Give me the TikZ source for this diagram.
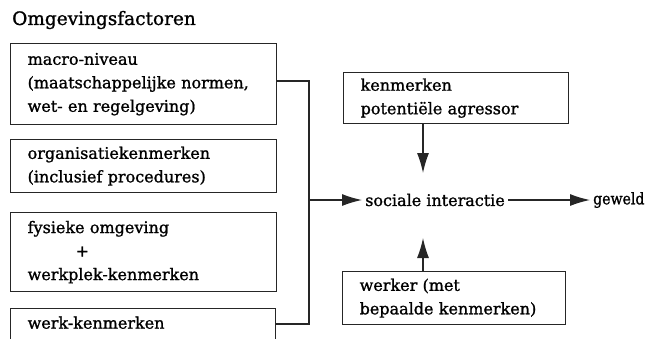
\documentclass[tikz,border=0pt]{standalone}
\usepackage{fontspec}
\setmainfont{DejaVu Serif}
\newfontfamily\medserif{DejaVu Serif}[FakeBold=1.2]
\newfontfamily\narrowserif{DejaVu Serif}[FakeBold=1.2, FakeStretch=0.88]
\usetikzlibrary{arrows.meta,calc}
\begin{document}
\begin{tikzpicture}[x=1pt,y=-1pt,
  box/.style={draw=black!85, line width=1.3pt, rectangle, align=left, anchor=north west,
    inner xsep=17pt, inner ysep=0pt, font=\medserif\fontsize{16}{23.5}\selectfont},
  plain/.style={inner sep=3pt, font=\medserif\fontsize{16}{23.5}\selectfont},
  con/.style={draw=black!85, line width=1.2pt},
  arr/.style={con, -{Latex[length=20pt,width=12pt]}}]
\useasboundingbox (0,0) rectangle (651,338);
\clip (0,0) rectangle (651,338);
\node[anchor=west, inner sep=0pt, font=\medserif\fontsize{18.5}{20}\selectfont] (title) at (12,20) {Omgevingsfactoren};
\node[box, text width=232pt, minimum height=81pt] (b1) at (10,43)
  {macro-niveau\\(maatschappelijke normen,\\wet- en regelgeving)};
\node[box, text width=232pt, minimum height=53pt] (b2) at (10,139)
  {organisatiekenmerken\\(inclusief procedures)};
\node[box, text width=232pt, minimum height=79pt] (b3) at (10,212)
  {fysieke omgeving\\\hspace*{48pt}+\\werkplek-kenmerken};
\node[box, text width=231pt, inner ysep=5pt, text height=15pt, text depth=30pt] (b4) at (10,308)
  {werk-kenmerken};
\node[box, text width=191pt, minimum height=51pt] (ka) at (343,72)
  {kenmerken\\potentiële agressor};
\node[box, text width=189pt, minimum height=53pt] (wk) at (342,271)
  {werker (met\\bepaalde kenmerken)};
\node[plain, anchor=west] (si) at (362,200) {sociale interactie};
\node[plain, anchor=west, font=\narrowserif\fontsize{16}{23.5}\selectfont] (gw) at (590,200) {geweld};
\coordinate (bt) at (309,81);
\coordinate (bb) at (309,324);
\coordinate (bm) at (309,200);
\coordinate (kt) at (423,173);
\coordinate (wt) at (423,238);
\draw[con] (b1.east |- bt) -- (bt) -- (bb) -- (b4.east |- bb);
\draw[arr] (bm) -- (si.west);
\draw[arr] (si.east) -- (gw.west);
\draw[arr] (ka.south -| kt) -- (kt);
\draw[arr] (wk.north -| wt) -- (wt);
\end{tikzpicture}
\end{document}
